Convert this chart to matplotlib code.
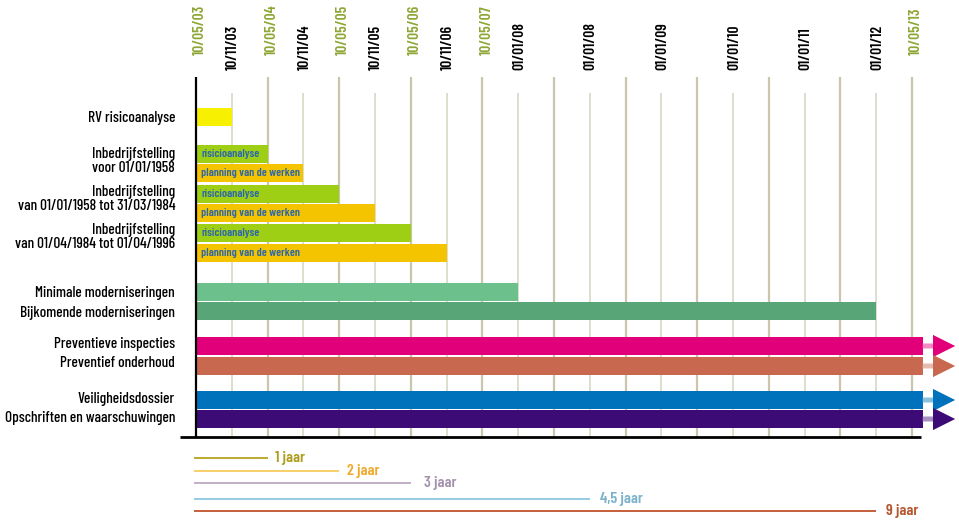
import matplotlib
matplotlib.use("Agg")
import matplotlib.pyplot as plt
from matplotlib.patches import FancyArrow
import matplotlib.colors as mcolors

FONT = ['Barlow Condensed', 'DejaVu Sans']
plt.rcParams['font.family'] = FONT
plt.rcParams['font.weight'] = 500

# ---------------- data ----------------
# timeline ticks (in years from 10/05/03)
major_ticks = [0, 1, 2, 3, 4, 5, 6, 7, 8, 9, 10]
major_labels = {0: "10/05/03", 1: "10/05/04", 2: "10/05/05", 3: "10/05/06",
                4: "10/05/07", 10: "10/05/13"}
minor_ticks = [0.5, 1.5, 2.5, 3.5, 4.5, 5.5, 6.5, 7.5, 8.5, 9.5]
minor_labels = ["10/11/03", "10/11/04", "10/11/05", "10/11/06", "01/01/08",
                "01/01/08", "01/01/09", "01/01/10", "01/01/11", "01/01/12"]

row_labels = ["RV risicoanalyse",
              "Inbedrijfstelling\nvoor 01/01/1958",
              "Inbedrijfstelling\nvan 01/01/1958 tot 31/03/1984",
              "Inbedrijfstelling\nvan 01/04/1984 tot 01/04/1996",
              "Minimale moderniseringen", "Bijkomende moderniseringen",
              "Preventieve inspecties", "Preventief onderhoud",
              "Veiligheidsdossier", "Opschriften en waarschuwingen"]

rv_end = [0.5]
risico_ends = [1, 2, 3]
planning_ends = [1.5, 2.5, 3.5]
modern_labels = ["Minimale moderniseringen", "Bijkomende moderniseringen"]
modern_ends = [4.5, 9.5]
ongoing_labels = ["Preventieve inspecties", "Preventief onderhoud",
                  "Veiligheidsdossier", "Opschriften en waarschuwingen"]
ongoing_end = 10.15

legend_labels = ["1 jaar", "2 jaar", "3 jaar", "4,5 jaar", "9 jaar"]
legend_lengths = [1, 2, 3, 5.5, 9.5]

# ---------------- layout / style ----------------
W, H = 959, 520
X0PX, PXU = 196.0, 71.6          # pixel of x=0 and pixels per year


def px(x):
    return (x - X0PX) / PXU


fig = plt.figure(figsize=(W / 100, H / 100), dpi=100)
ax = fig.add_axes([0, 0, 1, 1])
ax.set_xlim(px(0), px(W))
ax.set_ylim(H, 0)
ax.axis('off')

GREEN_TXT = '#8ea634'
GRID_MAJ = '#c9c6ad'
GRID_MIN = '#dcdac8'
BAR_H = 18
TOP_MAJ, TOP_MIN, BOTTOM = 77, 93, 437
FS_TICK = 11
FS = 11

# grid lines
ax.vlines(major_ticks[1:], TOP_MAJ, BOTTOM, color=GRID_MAJ, lw=1.6, zorder=1)
ax.vlines(minor_ticks, TOP_MIN, BOTTOM, color=GRID_MIN, lw=1.3, zorder=1)

# tick labels
for t, lab in major_labels.items():
    ax.text(t + 4 / PXU, 55, lab, rotation=90, ha='center', va='bottom',
            color=GREEN_TXT, fontsize=FS_TICK, fontweight=600)
for t, lab in zip(minor_ticks, minor_labels):
    ax.text(t + 1 / PXU, 70, lab, rotation=90, ha='center', va='bottom',
            color='black', fontsize=FS_TICK, fontweight=600)

# bars
rv_y = [117]
risico_y = [154, 194, 233]
planning_y = [173, 213, 253]
modern_y = [292, 311]
ongoing_y = [346, 366, 400, 419]

YELLOW = '#f7f000'
RISICO = '#9fcf14'
PLANNING = '#f5c400'
modern_colors = ['#6bc08b', '#58a577']
ongoing_colors = ['#e2007a', '#c8694f', '#0072bc', '#3d0b75']
INNER = '#2b67ad'

ax.barh(rv_y, rv_end, height=BAR_H, left=0, color=YELLOW, zorder=2)
ax.barh(risico_y, risico_ends, height=BAR_H, left=0, color=RISICO, zorder=2)
ax.barh(planning_y, planning_ends, height=BAR_H, left=0, color=PLANNING, zorder=2)
ax.barh(modern_y, modern_ends, height=BAR_H, left=0, color=modern_colors, zorder=2)
ax.barh(ongoing_y, [ongoing_end] * len(ongoing_y), height=BAR_H, left=0,
        color=ongoing_colors, zorder=2)

for y in risico_y:
    ax.text(5 / PXU, y, "risicioanalyse", ha='left', va='center', color=INNER,
            fontsize=8.5, fontweight=600, zorder=3)
for y in planning_y:
    ax.text(5 / PXU, y, "planning van de werken", ha='left', va='center',
            color=INNER, fontsize=8.5, fontweight=600, zorder=3)

# arrows
for y, c in zip(ongoing_y, ongoing_colors):
    light = tuple(0.45 * a + 0.55 for a in mcolors.to_rgb(c))
    ax.add_patch(FancyArrow(ongoing_end, y, px(955) - ongoing_end, 0, width=5,
                            head_width=22, head_length=22 / PXU,
                            length_includes_head=True, color=light, lw=0,
                            zorder=2))
    ax.add_patch(FancyArrow(px(931), y, px(955) - px(931), 0, width=0.1,
                            head_width=22, head_length=22 / PXU,
                            length_includes_head=True, color=c, lw=0, zorder=3))

# axes lines
ax.vlines([0], TOP_MAJ, BOTTOM + 1, color='black', lw=1.6, zorder=4)
ax.hlines([BOTTOM], px(180), px(921), color='black', lw=2.0, zorder=4)

# row labels
label_y = [118, 161, 199, 237, 293, 313, 344, 363, 399, 418]
for lab, y in zip(row_labels, label_y):
    ax.text(px(175), y, lab, ha='right', va='center', fontsize=FS,
            color='black', linespacing=1.08)

# duration legend
leg_line_colors = ['#b5a21f', '#f8cc5e', '#bba8c0', '#8dc7dd', '#c0532c']
leg_text_colors = ['#ae9c1c', '#f0a92c', '#a590ad', '#7ab2cb', '#b5562e']
leg_y = [458, 471, 483, 499, 511]
leg_text_dx = [7, 8, 13, 10, 10]
for lab, L, y, lc, tc, dx in zip(legend_labels, legend_lengths, leg_y,
                                 leg_line_colors, leg_text_colors, leg_text_dx):
    ax.hlines([y], px(194), L, color=lc, lw=1.3)
    ax.text(L + dx / PXU, y, lab, ha='left', va='center', color=tc,
            fontsize=11.5, fontweight=600)

fig.savefig("out.png", dpi=100)
